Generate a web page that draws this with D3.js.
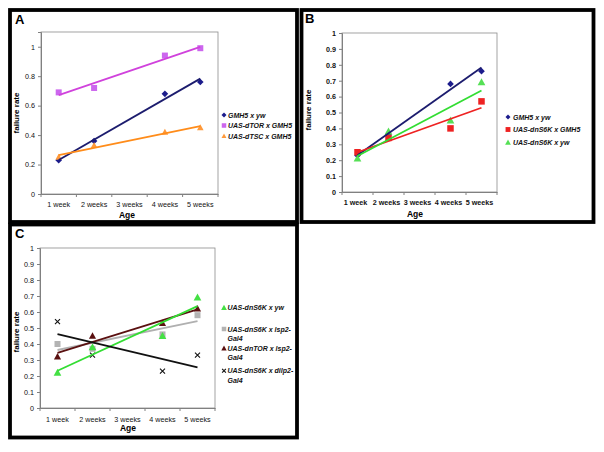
<!DOCTYPE html>
<html>
<head>
<meta charset="utf-8">
<script src="https://cdn.jsdelivr.net/npm/d3@7"></script>
<style>
  html, body { margin: 0; padding: 0; background: #fff; }
  svg { display: block; font-family: "Liberation Sans", Arial, sans-serif; }
</style>
</head>
<body>
<svg id="chart" width="604" height="452"></svg>
<script>
// ---------- DATA ----------
const categories = ["1 week", "2 weeks", "3 weeks", "4 weeks", "5 weeks"];

// Panel A
const ticksA = [0, 0.2, 0.4, 0.6, 0.8, 1];
const gmh5YwA      = [0.23, 0.36, null, 0.68, 0.76];
const dTorGmh5A    = [0.69, 0.72, null, 0.94, 0.99];
const dTscGmh5A    = [0.25, 0.33, null, 0.42, 0.45];

// Panel B
const ticksB = [0, 0.1, 0.2, 0.3, 0.4, 0.5, 0.6, 0.7, 0.8, 0.9, 1];
const gmh5YwB      = [0.23, 0.36, null, 0.68, 0.76];
const dnS6kGmh5B   = [0.25, 0.34, null, 0.40, 0.57];
const dnS6kYwB     = [0.21, 0.38, null, 0.45, 0.69];

// Panel C
const ticksC = [0, 0.1, 0.2, 0.3, 0.4, 0.5, 0.6, 0.7, 0.8, 0.9, 1];
const dnS6kYwC     = [0.22, 0.38, null, 0.45, 0.69];
const dnS6kLsp2C   = [0.40, 0.37, null, 0.46, 0.58];
const dnTorLsp2C   = [0.32, 0.45, null, 0.53, 0.62];
const dnS6kDilp2C  = [0.54, 0.33, null, 0.23, 0.33];

const legendA = ["GMH5 x yw", "UAS-dTOR x GMH5", "UAS-dTSC x GMH5"];
const legendB = ["GMH5 x yw", "UAS-dnS6K x GMH5", "UAS-dnS6K x yw"];
const legendC = [["UAS-dnS6K x yw"], ["UAS-dnS6K x lsp2-", "Gal4"], ["UAS-dnTOR x lsp2-", "Gal4"], ["UAS-dnS6K x dilp2-", "Gal4"]];

// ---------- DRAWING ----------
const svg = d3.select("#chart");
svg.append("rect").attr("width", 604).attr("height", 452).attr("fill", "#fff");

function fit(vals) {
  const pts = vals.map((v, i) => [i, v]).filter(p => p[1] !== null);
  const mx = d3.mean(pts, p => p[0]), my = d3.mean(pts, p => p[1]);
  const sxy = d3.sum(pts, p => (p[0] - mx) * (p[1] - my));
  const sxx = d3.sum(pts, p => (p[0] - mx) ** 2);
  const b = sxy / sxx, a = my - b * mx;
  const i0 = d3.min(pts, p => p[0]), i1 = d3.max(pts, p => p[0]);
  return [[i0, a + b * i0], [i1, a + b * i1]];
}

function marker(g, shape, x, y, color, s) {
  if (shape === "diamond") {
    const r = s * 0.55;
    g.append("path").attr("d", `M${x},${y - r}L${x + r},${y}L${x},${y + r}L${x - r},${y}Z`).attr("fill", color);
  } else if (shape === "square") {
    g.append("rect").attr("x", x - s / 2).attr("y", y - s / 2).attr("width", s).attr("height", s).attr("fill", color);
  } else if (shape === "triangle") {
    const h = s * 0.95;
    g.append("path").attr("d", `M${x},${y - h * 0.6}L${x + s * 0.55},${y + h * 0.45}L${x - s * 0.55},${y + h * 0.45}Z`).attr("fill", color);
  } else if (shape === "x") {
    const r = s * 0.42;
    g.append("path").attr("d", `M${x - r},${y - r}L${x + r},${y + r}M${x + r},${y - r}L${x - r},${y + r}`)
      .attr("stroke", color).attr("stroke-width", 1.1).attr("fill", "none");
  }
}

function panel(cfg) {
  const g = svg.append("g");
  // outer border
  g.append("rect").attr("x", cfg.box[0]).attr("y", cfg.box[1]).attr("width", cfg.box[2]).attr("height", cfg.box[3])
    .attr("fill", "none").attr("stroke", "#000").attr("stroke-width", 3.8);
  g.append("text").attr("x", cfg.letterPos[0]).attr("y", cfg.letterPos[1]).text(cfg.letter)
    .attr("font-size", 13).attr("font-weight", "bold").attr("fill", "#000");

  const x = d3.scaleBand().domain(categories).range([cfg.x0, cfg.x1]).padding(0);
  const y = d3.scaleLinear().domain(cfg.domain).range([cfg.yb, cfg.yt]);
  const cx = i => x(categories[i]) + x.bandwidth() / 2;

  // plot area border
  g.append("rect").attr("x", cfg.x0).attr("y", cfg.yt).attr("width", cfg.x1 - cfg.x0).attr("height", cfg.yb - cfg.yt)
    .attr("fill", "none").attr("stroke", "#8c8c8c").attr("stroke-width", 0.8);

  // y axis
  const ya = g.append("g").attr("transform", `translate(${cfg.x0},0)`)
    .call(d3.axisLeft(y).tickValues(cfg.ticks).tickSize(3).tickPadding(3).tickFormat(d3.format("~g")));
  ya.select(".domain").attr("stroke", "#808080");
  ya.selectAll(".tick line").attr("stroke", "#808080");
  ya.selectAll(".tick text").attr("font-size", 7.2).attr("font-family", "Liberation Sans, Arial")
    .attr("font-weight", cfg.tickBold ? "bold" : "normal").attr("fill", "#111");

  // x axis
  const xa = g.append("g").attr("transform", `translate(0,${cfg.yb})`)
    .call(d3.axisBottom(x).tickSize(0).tickPadding(cfg.xPad));
  xa.select(".domain").attr("stroke", "#808080");
  xa.selectAll(".tick text").attr("font-size", 7.2).attr("font-family", "Liberation Sans, Arial")
    .attr("font-weight", cfg.tickBold ? "bold" : "normal").attr("fill", "#111")
    .attr("transform", `translate(${cfg.xShift || 0},0)`);
  // between-category tick marks
  g.selectAll(null).data(d3.range(6)).enter().append("line")
    .attr("x1", i => cfg.x0 + i * x.bandwidth()).attr("x2", i => cfg.x0 + i * x.bandwidth())
    .attr("y1", cfg.yb).attr("y2", cfg.yb + 3).attr("stroke", "#808080").attr("stroke-width", 1);

  // axis titles
  g.append("text").attr("x", cfg.ageX).attr("y", cfg.ageY).attr("text-anchor", "middle")
    .attr("font-size", 8.5).attr("font-weight", "bold").text("Age");
  g.append("text").attr("transform", `translate(${cfg.frX},${cfg.frY}) rotate(-90)`).attr("text-anchor", "middle")
    .attr("font-size", 8).attr("font-weight", "bold").text("failure rate");

  // markers first, then trend lines
  cfg.series.forEach(s => {
    s.values.forEach((v, i) => { if (v !== null) marker(g, s.shape, cx(i), y(v), s.color, s.size); });
  });
  cfg.series.forEach(s => {
    const f = fit(s.values);
    g.append("line").attr("x1", cx(f[0][0])).attr("y1", y(f[0][1])).attr("x2", cx(f[1][0])).attr("y2", y(f[1][1]))
      .attr("stroke", s.line).attr("stroke-width", 1.8);
  });

  // legend
  cfg.series.forEach((s, k) => {
    const li = s.legendIdx !== undefined ? s.legendIdx : k;
    const ly = cfg.legendY[li];
    marker(g, s.shape, cfg.legendX, ly, s.color, s.size * 0.75);
    const lines = Array.isArray(s.label) ? s.label : [s.label];
    lines.forEach((t, j) => {
      g.append("text").attr("x", cfg.legendX + cfg.legendGap).attr("y", ly + 2.6 + j * 9.5)
        .attr("font-size", 7).attr("font-weight", "bold").attr("font-style", "italic").attr("fill", "#111").text(t);
    });
  });
}

panel({
  letter: "A", box: [10, 10, 287, 212], letterPos: [15, 24],
  x0: 41, x1: 218, yt: 32, yb: 194, domain: [0, 1.1], ticks: ticksA, tickBold: false, xPad: 8,
  ageX: 127, ageY: 217.5, frX: 19, frY: 113,
  legendX: 224, legendGap: 4, legendY: [115, 125.5, 136],
  series: [
    { label: legendA[0], values: gmh5YwA, shape: "diamond", color: "#1c1c8c", line: "#1c1c6e", size: 6 },
    { label: legendA[1], values: dTorGmh5A, shape: "square", color: "#cc66ee", line: "#d042dc", size: 6 },
    { label: legendA[2], values: dTscGmh5A, shape: "triangle", color: "#ff9a3c", line: "#ff8c1a", size: 6 }
  ]
});

panel({
  letter: "B", box: [301.5, 10, 292, 212], letterPos: [305, 23],
  x0: 342, x1: 497, yt: 33, yb: 192, domain: [0, 1], ticks: ticksB, tickBold: true, xPad: 8, xShift: -2,
  ageX: 415, ageY: 217, frX: 311, frY: 110,
  legendX: 508, legendGap: 5, legendY: [117, 129.5, 142.5],
  series: [
    { label: legendB[0], values: gmh5YwB, shape: "diamond", color: "#1c1c8c", line: "#1c1c6e", size: 6 },
    { label: legendB[1], values: dnS6kGmh5B, shape: "square", color: "#ee2222", line: "#ee2222", size: 6.5 },
    { label: legendB[2], values: dnS6kYwB, shape: "triangle", color: "#55e055", line: "#33dd33", size: 7 }
  ]
});

panel({
  letter: "C", box: [10, 224.5, 287, 213], letterPos: [15, 238],
  x0: 40, x1: 215, yt: 248, yb: 408, domain: [0, 1], ticks: ticksC, tickBold: false, xPad: 9,
  ageX: 128, ageY: 431, frX: 19, frY: 332,
  legendX: 224, legendGap: 3.5, legendY: [307.7, 329, 348.3, 370.7],
  series: [
    { label: legendC[1], values: dnS6kLsp2C, shape: "square", color: "#b3b3b3", line: "#b0b0b0", size: 6, legendIdx: 1 },
    { label: legendC[2], values: dnTorLsp2C, shape: "triangle", color: "#5a1010", line: "#5a1010", size: 6.5, legendIdx: 2 },
    { label: legendC[0], values: dnS6kYwC, shape: "triangle", color: "#44e044", line: "#33dd33", size: 7, legendIdx: 0 },
    { label: legendC[3], values: dnS6kDilp2C, shape: "x", color: "#111", line: "#111", size: 6, legendIdx: 3 }
  ]
});
</script>
</body>
</html>
